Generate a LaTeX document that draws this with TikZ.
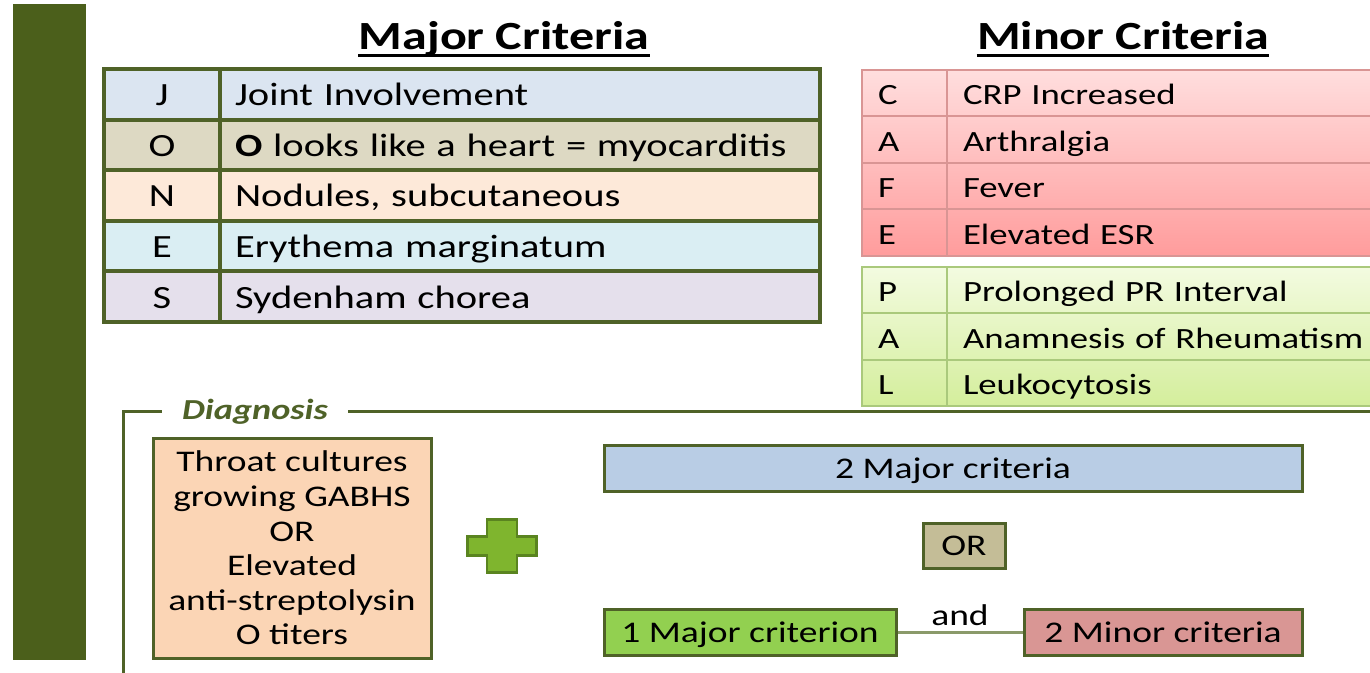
\documentclass[tikz,border=0pt]{standalone}
\usepackage{fontspec}
\setmainfont[FakeStretch=1.25]{Carlito}
\usetikzlibrary{positioning,calc}

\definecolor{barGreen}{HTML}{4B5F1B}
\definecolor{edgeGreen}{HTML}{4F6228}
\definecolor{majJ}{HTML}{DBE5F1}
\definecolor{majO}{HTML}{DDD9C3}
\definecolor{majN}{HTML}{FDE9D9}
\definecolor{majE}{HTML}{DAEEF3}
\definecolor{majS}{HTML}{E5E0EC}
\definecolor{redTop}{HTML}{FFDEDE}
\definecolor{redBot}{HTML}{FF9C9C}
\definecolor{redEdge}{HTML}{D99594}
\definecolor{grnTop}{HTML}{F3FBE0}
\definecolor{grnBot}{HTML}{D4EE9C}
\definecolor{grnEdge}{HTML}{AAC97C}
\definecolor{throatFill}{HTML}{FBD5B5}
\definecolor{twoMajFill}{HTML}{B9CDE5}
\definecolor{orFill}{HTML}{C4BD97}
\definecolor{oneMajFill}{HTML}{92D050}
\definecolor{twoMinFill}{HTML}{D99694}
\definecolor{plusFill}{HTML}{7FB52E}
\definecolor{plusEdge}{HTML}{5A8420}
\definecolor{andLine}{HTML}{8A9A6A}

\tikzset{
  title/.style={font=\fontsize{20}{24}\selectfont\bfseries, inner sep=0pt, anchor=base},
  cell/.style={inner sep=0pt, outer sep=0pt, text height=12pt, text depth=0.5pt},
  majcell/.style={cell, draw=edgeGreen, line width=2pt, minimum height=25.3pt, font=\fontsize{16.2}{19}\selectfont},
  majletter/.style={majcell, minimum width=58pt, align=center},
  majtext/.style={majcell, inner xsep=7.5pt, text width=285pt, align=left},
  mincell/.style={cell, line width=1pt, font=\fontsize{14.7}{18}\selectfont, inner xsep=8pt, align=left},
  minletter/.style={mincell, text width=26.5pt},
  mintext/.style={mincell, text width=230pt},
  frame/.style={draw=edgeGreen, line width=1.5pt},
  critbox/.style={draw=edgeGreen, line width=1.5pt, minimum height=23pt, inner sep=0pt, font=\fontsize{15}{18}\selectfont, text height=10pt, text depth=0pt},
}

\begin{document}
\begin{tikzpicture}[x=0.5pt, y=-0.5pt]
    \fill[white] (0,0) rectangle (1370,673);
    \clip (0,0) rectangle (1370,673);
    \fill[barGreen] (13,4) rectangle (86,660);

    % titles
    \node[title] (majtitle) at (504,50) {Major Criteria};
    \node[title] (mintitle) at (1123,50) {Minor Criteria};
    \foreach \t in {majtitle, mintitle} {
        \draw[line width=1.5pt] ([yshift=-2.75pt]\t.base west) -- ([yshift=-2.75pt]\t.base east);
    }

    % Major table
    \foreach \ltr/\txt/\shade [count=\i from 0] in {J/Joint Involvement/majJ, O/{\textbf{O} looks like a heart = myocarditis}/majO, N/{Nodules, subcutaneous}/majN, E/Erythema marginatum/majE, S/Sydenham chorea/majS} {
        \node[majletter, fill=\shade] (mjl\i) at (162, {94.3+50.6*\i}) {\ltr};
        \node[majtext, fill=\shade, right=0pt of mjl\i] (mjt\i) {\txt};
    }

    % Minor table, red part
    \shade[top color=redTop, bottom color=redBot] (862,70) rectangle (1380,256);
    \foreach \ltr/\txt [count=\i from 0] in {C/CRP Increased, A/Arthralgia, F/Fever, E/Elevated ESR} {
        \node[minletter, draw=redEdge, minimum height=23.25pt] (mnl\i) at (904.5, {93.25+46.5*\i}) {\ltr};
        \node[mintext, draw=redEdge, minimum height=23.25pt, right=0pt of mnl\i] (mnt\i) {\txt};
    }

    % Minor table, green part
    \shade[top color=grnTop, bottom color=grnBot] (862,267) rectangle (1380,406);
    \foreach \ltr/\txt [count=\i from 0] in {P/Prolonged PR Interval, A/Anamnesis of Rheumatism, L/Leukocytosis} {
        \node[minletter, draw=grnEdge, minimum height=23.17pt] (mgl\i) at (904.5, {290.2+46.33*\i}) {\ltr};
        \node[mintext, draw=grnEdge, minimum height=23.17pt, right=0pt of mgl\i] (mgt\i) {\txt};
    }

    % Diagnosis frame
    \node[font=\fontsize{14.5}{16}\selectfont\bfseries\itshape, text=edgeGreen, inner sep=0pt] (diag) at (255,412) {Diagnosis};
    \draw[frame] ([xshift=-10pt]diag.west) -| (123,690);
    \draw[frame] ([xshift=10pt]diag.east) -- (diag.east -| 1380,0);

    \node[draw=edgeGreen, line width=1.5pt, fill=throatFill, minimum width=139pt, minimum height=110pt,
          align=center, font=\fontsize{15}{17.3}\selectfont] (throat) at (292,548)
          {Throat cultures\\growing GABHS\\OR\\Elevated\\anti-streptolysin\\O titers};

    % plus sign
    \coordinate (plus) at (502,546);
    \draw[fill=plusFill, draw=plusEdge, line width=1.2pt] (plus) ++(-15,-26.5) -- ++(30,0) -- ++(0,17) -- ++(19.5,0)
        -- ++(0,19) -- ++(-19.5,0) -- ++(0,17) -- ++(-30,0) -- ++(0,-17) -- ++(-19.5,0) -- ++(0,-19) -- ++(19.5,0) -- cycle;

    % criteria boxes
    \node[critbox, fill=twoMajFill, minimum width=349pt] (twomaj) at (953,468) {2 Major criteria};
    \node[critbox, fill=orFill, minimum width=41pt, minimum height=22.5pt] (orbox) at (964,545.5) {OR};
    \node[critbox, fill=oneMajFill, minimum width=146pt] (onemaj) at (750,632.5) {1 Major criterion};
    \node[critbox, fill=twoMinFill, minimum width=139pt] (twomin) at (1163,632.5) {2 Minor criteria};
    \draw[andLine, line width=1.2pt] (onemaj) -- node[above, inner sep=3pt, font=\fontsize{15}{18}\selectfont, text=black] (andlbl) {and} (twomin);
\end{tikzpicture}
\end{document}
